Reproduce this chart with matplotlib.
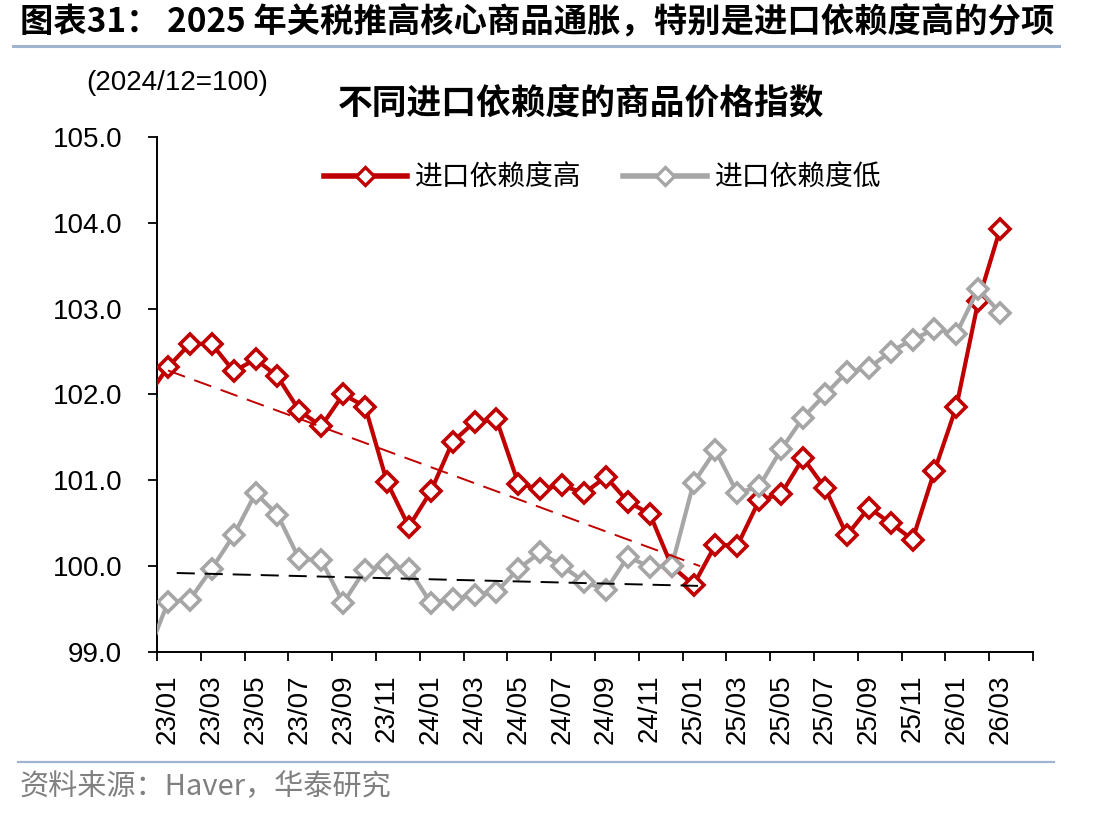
import numpy as np
import pandas as pd
import matplotlib
matplotlib.use('Agg')
import matplotlib.pyplot as plt
from matplotlib.lines import Line2D

plt.rcParams['font.family'] = ['Liberation Sans', 'Noto Sans CJK SC', 'DejaVu Sans']

# months 22/12 .. 26/03, the first one sits left of the axis and is clipped
months = pd.period_range('2022-12', '2026-03', freq='M')
month_labels = [m.strftime('%y/%m') for m in months]

high_dep = [101.95, 102.32, 102.59, 102.59, 102.27, 102.41, 102.21, 101.81, 101.63, 102.00,
            101.86, 100.98, 100.46, 100.87, 101.45, 101.68, 101.71, 100.96, 100.90, 100.94,
            100.85, 101.04, 100.75, 100.61, 100.00, 99.78, 100.25, 100.24, 100.77, 100.84,
            101.26, 100.91, 100.36, 100.68, 100.50, 100.31, 101.11, 101.86, 103.09, 103.93]
low_dep = [98.93, 99.58, 99.61, 99.97, 100.36, 100.85, 100.60, 100.08, 100.07, 99.57,
           99.96, 100.01, 99.97, 99.57, 99.62, 99.66, 99.70, 99.97, 100.16, 100.00,
           99.82, 99.72, 100.11, 99.99, 100.00, 100.97, 101.35, 100.85, 100.93, 101.36,
           101.73, 102.00, 102.26, 102.31, 102.50, 102.64, 102.76, 102.71, 103.23, 102.95]

# hand drawn trend lines (category index, value)
trend_high_x = [0.0, 24.3]
trend_high_y = [102.28, 100.00]
trend_low_x = [0.4, 24.2]
trend_low_y = [99.92, 99.77]

red = '#C00000'
grey = '#A6A6A6'

fig = plt.figure(figsize=(11.12, 8.17), dpi=100)
ax = fig.add_axes([0.1412, 0.202, 0.929 - 0.1412, 0.8323 - 0.202])

x = np.arange(len(months)) - 1  # 22/12 -> -1

ax.plot(x, high_dep, color=red, lw=3.0, marker='D', ms=10.5, mfc='white',
        mec=red, mew=2.6, zorder=3)
ax.plot(x, low_dep, color=grey, lw=3.0, marker='D', ms=10.5, mfc='white',
        mec=grey, mew=2.6, zorder=4)
ax.plot(trend_high_x, trend_high_y, color=red, lw=1.4, ls=(0, (9.3, 5.1)), zorder=5)
ax.plot(trend_low_x, trend_low_y, color='black', lw=1.4, ls=(0, (9.3, 5.1)), zorder=5)

ax.set_xlim(-0.5, 39.5)
ax.set_ylim(99, 105)
yt = np.arange(99, 105.01, 1)
ax.set_yticks(yt)
ax.set_yticklabels([f'{v:.1f}' for v in yt], fontsize=20)

# major ticks between categories, labels on the category centres
ax.set_xticks(np.arange(-0.5, 39.6, 2))
ax.set_xticklabels([])
lab_pos = np.arange(0, 40, 2)
ax.set_xticks(lab_pos, minor=True)
ax.set_xticklabels([month_labels[i + 1] for i in lab_pos], minor=True,
                   rotation=90, fontsize=20)
ax.tick_params(axis='x', which='minor', length=0, pad=16)
ax.tick_params(axis='x', which='major', length=6.5, width=1.3, direction='out')
ax.tick_params(axis='y', length=6.7, width=1.3, direction='out', pad=18.5)

for s in ['top', 'right']:
    ax.spines[s].set_visible(False)
for s in ['left', 'bottom']:
    ax.spines[s].set_linewidth(1.4)

handles = [Line2D([], [], color=red, lw=4, marker='D', ms=9, mfc='white', mec=red, mew=2.4),
           Line2D([], [], color=grey, lw=4, marker='D', ms=9, mfc='white', mec=grey, mew=2.4)]
ax.legend(handles, ['进口依赖度高', '进口依赖度低'], loc='center',
          bbox_to_anchor=(0.5086, 0.92), ncol=2, frameon=False,
          handlelength=3.0, columnspacing=1.5, handletextpad=0.3,
          prop={'family': ['Noto Sans CJK SC'], 'size': 20})

fig.text(0.5225, 0.874, '不同进口依赖度的商品价格指数', ha='center', va='center',
         fontsize=25, fontweight='bold', family=['Noto Sans CJK SC'])
fig.text(0.078, 0.899, '(2024/12=100)', ha='left', va='center', fontsize=20)

fig.text(0.018, 0.972, '图表31： 2025 年关税推高核心商品通胀，特别是进口依赖度高的分项',
         ha='left', va='center', fontsize=24, fontweight='bold',
         family=['Noto Sans CJK SC'])
fig.add_artist(Line2D([0.012, 0.952], [0.944, 0.944], color='#9FB4CF', lw=2.2))
fig.add_artist(Line2D([0.016, 0.948], [0.067, 0.067], color='#9FB4CF', lw=1.6))
fig.text(0.018, 0.037, '资料来源：Haver，华泰研究', ha='left', va='center',
         fontsize=21, color='#808080', family=['Noto Sans CJK SC'])

fig.savefig('out.png', dpi=100)
